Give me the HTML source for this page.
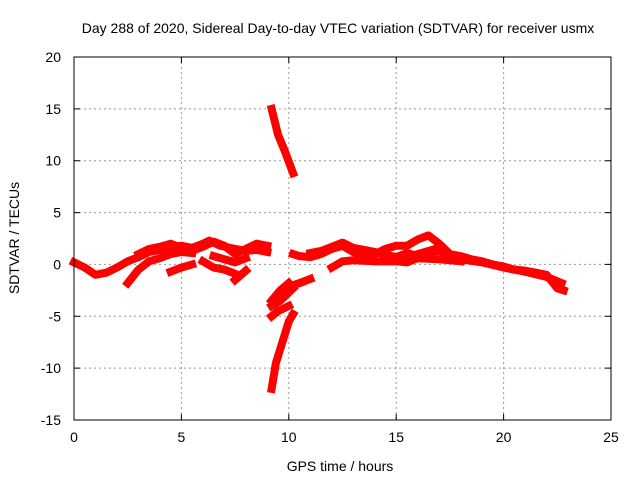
<!DOCTYPE html>
<html><head><meta charset="utf-8">
<style>
body{margin:0;background:#fff;}
svg{display:block;font-family:"Liberation Sans",sans-serif;}
</style></head>
<body>
<svg id="chart" width="640" height="480" viewBox="0 0 640 480">
<text x="338" y="33" font-size="14" text-anchor="middle">Day 288 of 2020, Sidereal Day-to-day VTEC variation (SDTVAR) for receiver usmx</text>
<text x="340" y="471" font-size="14" text-anchor="middle">GPS time / hours</text>
<text transform="translate(19,238) rotate(-90)" font-size="14" text-anchor="middle">SDTVAR / TECUs</text>
<g id="grid"></g>
<g id="series"></g>
<rect x="74" y="57" width="537" height="363" fill="none" stroke="#000" stroke-width="1"/>
</svg>
<script>
const xTicks=[0,5,10,15,20,25];
const yTicks=[-15,-10,-5,0,5,10,15,20];
const trackA=[[0,0.2],[0.5,-0.3],[1,-1.0],[1.5,-0.8],[2,-0.3],[2.5,0.3],[3,0.7],[3.5,1.2],[4,1.4],[4.5,1.7],[5,1.8],[5.5,1.6],[6,2.0],[6.3,2.3],[6.8,1.8],[7.5,1.5],[8,1.3],[8.5,1.4],[9,1.2]];
const trackB=[[3,1.0],[3.5,1.5],[4,1.7],[4.5,2.0],[5,1.6],[5.5,1.3],[6,1.7],[6.5,2.2],[7,1.8],[7.5,1.0],[8,1.5],[8.5,2.0],[9,1.8]];
const trackC=[[2.5,-1.8],[3,-0.5],[3.5,0.3],[4,0.6],[4.5,1.0],[5,1.2],[5.5,1.1]];
const trackD=[[4.5,-0.7],[5,-0.3],[5.5,0.0]];
const trackE=[[6,0.3],[6.5,-0.3],[7,-0.5],[7.5,-0.9]];
const trackF=[[7.5,-1.5],[8,-0.6]];
const trackG=[[6.5,0.8],[7,0.5],[7.5,0.2],[8,0.6]];
const trackH=[[10.2,1.0],[10.5,0.8],[11,0.7],[11.5,1.0],[12,1.5],[12.5,1.8],[13,1.2],[13.5,0.8],[14,1.0],[14.5,1.5],[15,1.8],[15.5,1.8],[16,2.4],[16.5,2.8],[17,2.0],[17.5,1.0],[18,0.8],[18.5,0.5],[19,0.3],[19.5,0],[20,-0.2],[20.5,-0.5],[21,-0.6],[21.5,-0.8],[22,-1.0],[22.5,-2.3],[22.8,-2.5]];
const trackI=[[11,1.1],[11.5,1.3],[12,1.7],[12.5,2.1],[13,1.6],[14,1.2],[15,0.7],[15.5,1.1],[16,0.8],[16.5,1.3],[17,1.3],[17.5,0.8],[18,0.5],[19,0.2],[20,-0.3],[21,-0.7],[22,-1.2],[22.7,-1.8]];
const trackJ=[[12,-0.3],[12.5,0.3],[13,0.4],[14,0.3],[15,0.3],[16,1.0],[17,1.6]];
const trackK=[[15,0.3],[15.5,0.2],[16,0.6],[17,0.5],[18,0.3]];
const trackL=[[9.2,15.0],[9.5,12.5],[9.8,11.0],[10.2,8.8]];
const trackM=[[9.2,-12.0],[9.4,-9.5],[9.7,-7.5],[10.0,-5.5],[10.2,-4.8]];
const trackN=[[9.2,-3.5],[9.6,-2.5],[10.0,-1.8]];
const trackO=[[9.2,-4.0],[9.6,-3.5],[10.2,-2.3]];
const trackP=[[9.2,-5.0],[9.5,-4.5],[10.0,-4.0]];
const trackR=[[10.2,-2.0],[10.5,-1.8],[11,-1.4]];
const tracks=[trackA,trackB,trackC,trackD,trackE,trackF,trackG,trackH,trackI,trackJ,trackK,trackL,trackM,trackN,trackO,trackP,trackR];

const NS="http://www.w3.org/2000/svg";
const X0=74,X1=611,Y0=420,Y1=57;
function sx(v){return X0+(v-0)/(25-0)*(X1-X0);}
function sy(v){return Y0-(v+15)/(20+15)*(Y0-Y1);}
const grid=document.getElementById('grid');
xTicks.forEach(t=>{
  const x=sx(t);
  if(t>0&&t<25){const l=document.createElementNS(NS,'line');
    l.setAttribute('x1',x);l.setAttribute('x2',x);l.setAttribute('y1',Y1);l.setAttribute('y2',Y0);
    l.setAttribute('stroke','#999');l.setAttribute('stroke-dasharray','2,3');
    
    
    grid.appendChild(l);}
  const tk=document.createElementNS(NS,'path');
  tk.setAttribute('d',`M${x},${Y0}v-6M${x},${Y1}v6`);tk.setAttribute('stroke','#000');
  
  
  grid.appendChild(tk);
  const tx=document.createElementNS(NS,'text');
  tx.setAttribute('x',x);tx.setAttribute('y',Y0+22);tx.setAttribute('font-size','14');tx.setAttribute('text-anchor','middle');
  tx.textContent=t;
  
  
  grid.appendChild(tx);
});
yTicks.forEach(t=>{
  const y=sy(t);
  if(t>-15&&t<20){const l=document.createElementNS(NS,'line');
    l.setAttribute('x1',X0);l.setAttribute('x2',X1);l.setAttribute('y1',y);l.setAttribute('y2',y);
    l.setAttribute('stroke','#999');l.setAttribute('stroke-dasharray','2,3');
    
    
    grid.appendChild(l);}
  const tk=document.createElementNS(NS,'path');
  tk.setAttribute('d',`M${X0},${y}h6M${X1},${y}h-6`);tk.setAttribute('stroke','#000');
  
  
  grid.appendChild(tk);
  const tx=document.createElementNS(NS,'text');
  tx.setAttribute('x',X0-13);tx.setAttribute('y',y+5);tx.setAttribute('font-size','14');tx.setAttribute('text-anchor','end');
  tx.textContent=t;
  
  
  grid.appendChild(tx);
});
const series=document.getElementById('series');
tracks.forEach(tr=>{
  const p=document.createElementNS(NS,'polyline');
  p.setAttribute('points',tr.map(d=>sx(d[0])+','+sy(d[1])).join(' '));
  p.setAttribute('fill','none');p.setAttribute('stroke','#ff0000');p.setAttribute('stroke-width','8');
  p.setAttribute('stroke-linejoin','round');p.setAttribute('stroke-linecap','square');
  
  
  series.appendChild(p);
});
</script>
</body></html>
